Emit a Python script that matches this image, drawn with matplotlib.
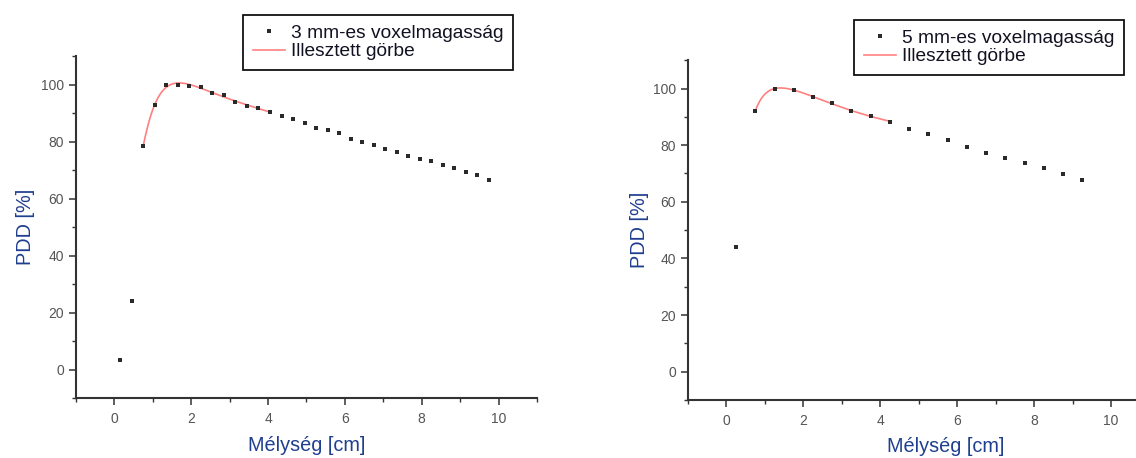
import numpy as np
import matplotlib.pyplot as plt
from matplotlib.ticker import MultipleLocator

plt.rcParams['font.family'] = ['Liberation Sans', 'DejaVu Sans']

# 3 mm voxel height: depth [cm] and PDD [%]
depth_3mm = [0.15, 0.45, 0.75, 1.05, 1.35, 1.65, 1.95, 2.25, 2.55, 2.85, 3.15,
             3.45, 3.75, 4.05, 4.35, 4.65, 4.95, 5.25, 5.55, 5.85, 6.15, 6.45,
             6.75, 7.05, 7.35, 7.65, 7.95, 8.25, 8.55, 8.85, 9.15, 9.45, 9.75]
pdd_3mm = [3.3, 23.9, 78.5, 92.7, 99.8, 100.0, 99.6, 99.2, 96.9, 96.2, 94.0,
           92.5, 91.6, 90.4, 89.1, 87.9, 86.5, 84.8, 83.9, 82.9, 80.9, 79.8,
           78.7, 77.4, 76.2, 75.0, 73.9, 73.1, 71.7, 70.7, 69.3, 68.1, 66.4]
fit_range_3mm = (0.75, 4.05)

# 5 mm voxel height
depth_5mm = [0.25, 0.75, 1.25, 1.75, 2.25, 2.75, 3.25, 3.75, 4.25, 4.75,
             5.25, 5.75, 6.25, 6.75, 7.25, 7.75, 8.25, 8.75, 9.25]
pdd_5mm = [44.1, 92.0, 100.0, 99.5, 96.9, 94.8, 92.0, 90.4, 88.3, 85.8,
           83.8, 81.7, 79.2, 77.4, 75.3, 73.6, 71.8, 69.9, 67.6]
fit_range_5mm = (0.75, 4.25)

labels = ['3 mm-es voxelmagasság', '5 mm-es voxelmagasság']
fit_label = 'Illesztett görbe'

axis_col = '#333333'
tick_col = '#555555'
label_col = '#1f3f8f'


def fitted_curve(x, y, lo, hi, deg):
    # polynomial in log(depth): steep build-up, smooth fall-off
    x = np.asarray(x)
    y = np.asarray(y)
    sel = (x >= lo - 1e-9) & (x <= hi + 1e-9)
    coef = np.polyfit(np.log(x[sel]), y[sel], deg)
    xs = np.linspace(lo, hi, 300)
    return xs, np.polyval(coef, np.log(xs))


def draw_panel(ax, x, y, frange, deg, name, leg_anchor, xlabel_x, ylabel_x):
    xs, ys = fitted_curve(x, y, frange[0], frange[1], deg)
    pts, = ax.plot(x, y, ls='none', marker='s', ms=2.3, mew=0, color='#2a2a2a',
                   label=name, zorder=3)
    fit, = ax.plot(xs, ys, color='#ff8080', lw=1.2, label=fit_label, zorder=2)

    ax.set_xlim(-1, 11)
    ax.set_ylim(-10, 110)
    ax.xaxis.set_major_locator(MultipleLocator(2))
    ax.xaxis.set_minor_locator(MultipleLocator(1))
    ax.yaxis.set_major_locator(MultipleLocator(20))
    ax.yaxis.set_minor_locator(MultipleLocator(10))
    ax.tick_params(which='major', direction='out', length=5, width=1.1,
                   color=axis_col, labelcolor=tick_col, labelsize=10)
    ax.tick_params(axis='x', which='major', pad=5)
    ax.tick_params(which='minor', direction='out', length=3, width=1.0,
                   color=axis_col)
    for s in ['top', 'right']:
        ax.spines[s].set_visible(False)
    for s in ['left', 'bottom']:
        ax.spines[s].set_color(axis_col)
        ax.spines[s].set_linewidth(1.5)

    ax.set_xlabel('Mélység [cm]', fontsize=14.3, color=label_col)
    ax.set_ylabel('PDD [%]', fontsize=14.3, color=label_col)
    ax.xaxis.set_label_coords(xlabel_x, -0.11)
    ax.yaxis.set_label_coords(ylabel_x, 0.5)

    leg = ax.legend(handles=[pts, fit], loc='upper left',
                    bbox_to_anchor=leg_anchor, bbox_transform=ax.figure.transFigure,
                    fontsize=13.8, frameon=True, fancybox=False, framealpha=1,
                    edgecolor='#111111', borderpad=0.5, handlelength=1.7,
                    handletextpad=0.3, labelspacing=0.05, markerscale=1.0,
                    borderaxespad=0)
    leg.get_frame().set_linewidth(1.3)
    for t in leg.get_texts():
        t.set_color('#111122')


fig = plt.figure(figsize=(11.36, 4.58), dpi=100)
ax1 = fig.add_axes([0.0669, 0.131, 0.4058, 0.7467])
ax2 = fig.add_axes([0.6056, 0.1266, 0.4064, 0.742])

draw_panel(ax1, depth_3mm, pdd_3mm, fit_range_3mm, 5, labels[0],
           (0.2139, 0.9672), 0.5, -0.09)
draw_panel(ax2, depth_5mm, pdd_5mm, fit_range_5mm, 3, labels[1],
           (0.7518, 0.9563), 0.558, -0.085)

fig.savefig('out.png', dpi=100)
